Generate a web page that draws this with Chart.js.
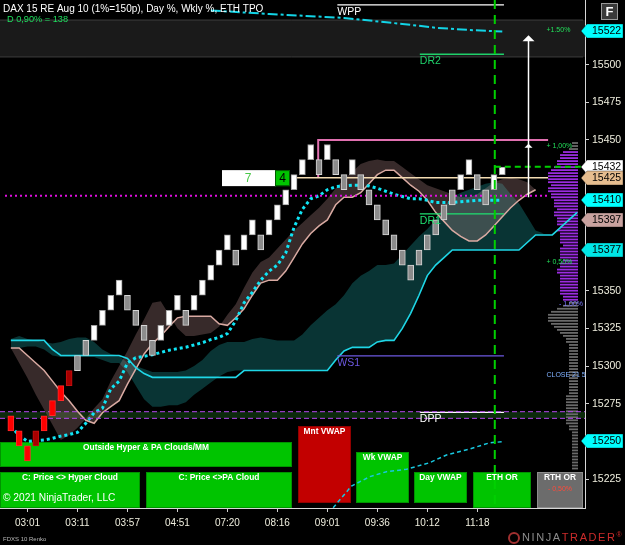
<!DOCTYPE html>
<html>
<head>
<meta charset="utf-8">
<script src="https://cdn.jsdelivr.net/npm/chart.js@4.4.1/dist/chart.umd.min.js"></script>
<style>
  html, body { margin: 0; padding: 0; background: #000; overflow: hidden; }
  canvas { display: block; }
</style>
</head>
<body>
<canvas id="chart" width="625" height="545"></canvas>
<script>
// ---- data ----
const tickIdx = [2, 8, 14, 20, 26, 32, 38, 44, 50, 56];
const tickLabels = ['03:01', '03:11', '03:57', '04:51', '07:20', '08:16', '09:01', '09:36', '10:12', '11:18'];

// renko bricks (10 pt), one per bar
const brickLow = [15257, 15247, 15237, 15247, 15257, 15267, 15277, 15287, 15297, 15307,
  15317, 15327, 15337, 15347, 15337, 15327, 15317, 15307, 15317, 15327,
  15337, 15327, 15337, 15347, 15357, 15367, 15377, 15367, 15377, 15387,
  15377, 15387, 15397, 15407, 15417, 15427, 15437, 15427, 15437, 15427,
  15417, 15427, 15417, 15407, 15397, 15387, 15377, 15367, 15357, 15367,
  15377, 15387, 15397, 15407, 15417, 15427, 15417, 15407, 15417, 15427];
const brickHigh = [15267, 15257, 15247, 15257, 15267, 15277, 15287, 15297, 15307, 15317,
  15327, 15337, 15347, 15357, 15347, 15337, 15327, 15317, 15327, 15337,
  15347, 15337, 15347, 15357, 15367, 15377, 15387, 15377, 15387, 15397,
  15387, 15397, 15407, 15417, 15427, 15437, 15447, 15437, 15447, 15437,
  15427, 15437, 15427, 15417, 15407, 15397, 15387, 15377, 15367, 15377,
  15387, 15397, 15407, 15417, 15427, 15437, 15427, 15417, 15427, 15432];
const brickType = 'RRRDRRRDGGWWWWGGGGWWWGWWWWWGWWGWWWWWWGWGGWGGGGGGGGGGGGWWGGWW'.split('');

// hyper cloud midline (pink) and its other edge
const hyperMid = [15312, 15312, 15307, 15302, 15297, 15290, 15283, 15277, 15270, 15264,
  15262, 15269, 15273, 15277, 15288, 15298, 15308, 15315, 15320, 15326,
  15332, 15333, 15333, 15333, 15333, 15328, 15327, 15332, 15338, 15347,
  15355, 15357, 15357, 15363, 15372, 15381, 15388, 15393, 15397, 15407,
  15412, 15412, 15415, 15421, 15427, 15430, 15430, 15425, 15420, 15416,
  15410, 15402, 15396, 15390, 15386, 15383, 15383, 15387, 15393, 15399,
  15405, 15410, 15414, 15417];
const hyperEdge = [15312, 15302, 15292, 15281, 15271, 15261, 15251, 15254, 15259, 15265,
  15272, 15278, 15290, 15300, 15310, 15321, 15331, 15342, 15343, 15334,
  15325, 15320, 15320, 15321, 15322, 15326, 15334, 15341, 15352, 15362,
  15369, 15372, 15378, 15384, 15390, 15395, 15400, 15405, 15411, 15418,
  15424, 15429, 15434, 15436, 15437, 15436, 15436, 15432, 15428, 15424,
  15420, 15418, 15416, 15414, 15412, 15412, 15414, 15418, 15422, 15424,
  15425, 15424, 15422, 15417];

// PA cloud (teal) edges and its cyan line
const paTop = [15318, 15320, 15318, 15317, 15316, 15315, 15316, 15318, 15319, 15319,
  15316, 15311, 15308, 15307, 15302, 15300, 15298, 15296, 15296, 15296,
  15296, 15297, 15300, 15304, 15310, 15314, 15316, 15316, 15316, 15318,
  15319, 15318, 15317, 15317, 15317, 15321, 15327, 15332, 15337, 15341,
  15347, 15355, 15360, 15363, 15367, 15367, 15368, 15374, 15380, 15386,
  15391, 15397, 15406, 15412, 15415, 15417, 15419, 15421, 15422, 15421,
  15414, 15408, 15399, 15390, 15388];
const paBot = [15312, 15312, 15313, 15313, 15311, 15307, 15306, 15306, 15306, 15306,
  15306, 15304, 15302, 15302, 15296, 15287, 15278, 15273, 15273, 15274,
  15274, 15276, 15281, 15285, 15289, 15293, 15296, 15297, 15297, 15297,
  15297, 15297, 15297, 15297, 15297, 15297, 15297, 15297, 15297, 15304,
  15310, 15312, 15312, 15312, 15316, 15317, 15317, 15325, 15335, 15347,
  15360, 15367, 15372, 15377, 15377, 15377, 15377, 15377, 15377, 15377,
  15377, 15377, 15382, 15387, 15388];
const paLine = [15317, 15317, 15317, 15317, 15317, 15311, 15307, 15307, 15307, 15307,
  15307, 15307, 15307, 15307, 15305, 15299, 15295, 15292.5, 15292.5, 15292.5,
  15292.5, 15292.5, 15292.5, 15292.5, 15292.5, 15292.5, 15292.5, 15292.5, 15297, 15297,
  15297, 15297, 15297, 15297, 15297, 15297, 15297, 15297, 15297, 15304,
  15310, 15312.4, 15312.4, 15312.4, 15316, 15317, 15317, 15325, 15335, 15347,
  15360, 15367, 15372, 15377, 15377, 15377, 15377, 15377, 15377, 15377,
  15377, 15377, 15382, 15387, 15387, 15387, 15392, 15397, 15402];

// dotted moving average
const maDots = [15260, 15254, 15250, 15250.5, 15251, 15252, 15253.5, 15254.5, 15256, 15262,
  15269, 15272, 15285, 15290, 15302, 15305.5, 15306.5, 15307.5, 15309, 15310.5,
  15311.5, 15312.5, 15314, 15315.5, 15317.5, 15319, 15321.5, 15330, 15342, 15349,
  15357, 15363, 15367, 15375, 15392, 15404, 15411, 15413, 15417, 15419,
  15419.5, 15420, 15420, 15419.5, 15418, 15416, 15414, 15412.5, 15411, 15411,
  15410, 15408.5, 15408.5, 15408.5, 15409, 15409.5, 15410, 15410, 15410, 15410];

// vwap lines
const topVwapIdx = [24, 31, 40, 47, 51, 55, 59];
const topVwapVal = [15536, 15533.6, 15531, 15527, 15524.5, 15523, 15522];
const wkVwapIdx = [38.7, 40.9, 43.1, 45.1, 47.5, 50.3, 52.3, 55.1, 57.5, 59.1];
const wkVwapVal = [15206, 15220.4, 15226.6, 15229.9, 15231.5, 15235.9, 15241, 15245, 15249.1, 15249.8];

// pivot levels
const levelNames = ['WPP', 'DR2', 'DR1', 'WS1', 'DPP'];
const levelValues = [15539.6, 15506.9, 15401, 15306.7, 15269.3];
const levelFrom = [39.2, 49.1, 49.1, 39.2, 49.1];
const levelTo = [59.2, 59.2, 59.2, 59.2, 59.2];

const dayHigh = 15450;
const openLine = 15425;
const vwapDay = 15413;
const lastPrice = 15432.3;
const tpoBand = [15265.3, 15269.7];
const pctBand = [15505.1, 15529.6];

// volume profile (2 pt rows, top down)
const profilePrice = [];
for (let p = 15448; p >= 15232; p -= 2) profilePrice.push(p);
const profileVol = [2, 2, 3, 5, 6, 6, 7, 7, 8, 9,
  10, 10, 10, 10, 9, 10, 10, 9, 9, 8,
  8, 8, 7, 8, 8, 7, 7, 7, 6, 7,
  6, 6, 6, 6, 5, 6, 6, 6, 6, 5,
  6, 6, 7, 7, 6, 6, 6, 6, 6, 6,
  6, 5, 5, 3, 5, 7, 9, 10, 10, 10,
  9, 8, 7, 6, 5, 4, 4, 3, 3, 3,
  3, 3, 3, 3, 3, 3, 3, 3, 3, 3,
  3, 3, 3, 3, 4, 4, 4, 4, 4, 4,
  4, 4, 4, 4, 3, 3, 2, 2, 2, 2,
  2, 2, 2, 2, 2, 2, 2, 2, 2];
const valueArea = [15344, 15442];

const axisTags = [15522, 15432, 15425, 15410, 15397, 15377, 15250];
const hiddenTicks = [15525, 15425, 15400, 15375, 15250];
const pctLabels = ['+1.50%', '+ 1,00%', '+ 0,50%', '- 1,00%', 'CLOSE 21 5'];
const pctLevels = [15523, 15446, 15369, 15341, 15294];

// ---- chart ----
const X_MIN = -1.3, X_MAX = 68.93;
const Y_MIN = 15205.8, Y_MAX = 15542.9;
Chart.defaults.font.family = '"Liberation Sans", Arial, sans-serif';

const seq = (arr) => arr.map((v, i) => ({ x: i, y: v }));
const pairs = (xs, ys) => xs.map((x, i) => ({ x: x, y: ys[i] }));
const hline = (v, a, b) => [{ x: a, y: v }, { x: b, y: v }];
const line = (data, color, width, dash, extra) => Object.assign({
  type: 'line', data: data, borderColor: color, borderWidth: width, borderDash: dash || [],
  pointRadius: 0, fill: false, tension: 0
}, extra || {});

const datasets = [];
const add = (d) => { datasets.push(d); return datasets.length - 1; };
const band = (lo, hi, color, order) => {
  const i = add(line(lo, 'transparent', 1, [], { order: order + 1 }));
  add(line(hi, 'transparent', 1, [], { order: order, fill: { target: i }, backgroundColor: color }));
};

band(hline(pctBand[0], X_MIN, X_MAX), hline(pctBand[1], X_MIN, X_MAX), '#1a1a1a', 120);
add(line(hline(pctBand[0], X_MIN, 68.7), '#3c3c3c', 1, [], { order: 110 }));
add(line(hline(pctBand[1], X_MIN, 68.7), '#3c3c3c', 1, [], { order: 110 }));
band(hline(tpoBand[0], X_MIN, X_MAX), hline(tpoBand[1], X_MIN, X_MAX), '#0c2a0c', 116);
add(line(hline(tpoBand[0], X_MIN, X_MAX), '#b548f0', 1, [5, 3], { order: 70 }));
add(line(hline(tpoBand[1], X_MIN, X_MAX), '#b548f0', 1, [5, 3], { order: 70 }));

band(seq(paBot), seq(paTop), '#093434', 100);
const iMid = add(line(seq(hyperMid), '#d9aaa2', 1.5, [], { order: 80 }));
add(line(seq(hyperEdge), 'transparent', 1, [], { order: 90, fill: { target: iMid }, backgroundColor: 'rgba(205,155,155,0.27)' }));

add({
  type: 'bar', indexAxis: 'y', xAxisID: 'xp', yAxisID: 'yp', order: 88,
  data: profilePrice.map((p, i) => ({ y: p, x: [0, profileVol[i]] })),
  backgroundColor: profilePrice.map(p => (p >= valueArea[0] && p <= valueArea[1]) ? '#9b2ce0' : '#6a6a6a'),
  barThickness: 1.8, borderWidth: 0, grouped: false, inflateAmount: 0
});

add(line(seq(paLine), '#1fd6e6', 1.6, [], { order: 78 }));
add(line(seq(maDots), '#10e4f4', 3, [3, 3], { order: 76 }));
add(line(pairs(topVwapIdx, topVwapVal), '#12d4e6', 2, [10, 3, 3, 3], { order: 75 }));
add(line(pairs(wkVwapIdx, wkVwapVal), '#18c8e0', 1.5, [4, 3], { order: 75 }));

const levelColor = { WPP: '#ffffff', DR2: '#1fd06a', DR1: '#1fe070', WS1: '#6c58e0', DPP: '#ffffff' };
levelNames.forEach((n, i) => add(line(hline(levelValues[i], levelFrom[i], levelTo[i]), levelColor[n], 1.3, [], { order: 72 })));
add(line(hline(vwapDay, -0.7, 64.5), '#e010e0', 2, [2, 3], { order: 71 }));
add(line(hline(openLine, 33.8, 64.5), '#f3dcb2', 1.5, [], { order: 71 }));
add(line([{ x: 36.9, y: openLine }, { x: 36.9, y: dayHigh }, { x: 64.5, y: dayHigh }], '#e070b0', 2, [], { order: 71 }));

const brickFill = { R: '#ff0000', D: '#a80000', W: '#ffffff', G: '#8c8c8c' };
const brickEdge = { R: '#ff2a2a', D: '#c41010', W: '#a0a0a0', G: '#d6d6d6' };
add({
  type: 'bar', order: 10, grouped: false,
  data: brickLow.map((lo, i) => ({ x: i, y: [lo, brickHigh[i]] })),
  backgroundColor: brickType.map(t => brickFill[t]),
  borderColor: brickType.map(t => brickEdge[t]),
  borderWidth: 1, borderSkipped: false, barThickness: 6
});

add(line([{ x: 58.1, y: Y_MAX }, { x: 58.1, y: Y_MIN }], '#00d000', 2, [9, 6], { order: 5 }));
add(line(hline(lastPrice, 58.1, X_MAX), '#00d000', 2, [6, 4], { order: 5 }));

const panels = [
  { t: 'Outside Hyper & PA Clouds/MM', x: 0, y: 442, w: 292, h: 25, c: '#00c400' },
  { t: 'C: Price <> Hyper Cloud', x: 0, y: 472, w: 140, h: 36, c: '#00c400' },
  { t: 'C: Price <>PA Cloud', x: 146, y: 472, w: 146, h: 36, c: '#00c400' },
  { t: 'Mnt VWAP', x: 298, y: 426, w: 53, h: 77, c: '#c20000' },
  { t: 'Wk VWAP', x: 356, y: 452, w: 53, h: 51, c: '#00c400' },
  { t: 'Day VWAP', x: 414, y: 472, w: 53, h: 31, c: '#00c400' },
  { t: 'ETH OR', x: 473, y: 472, w: 58, h: 36, c: '#00c400' },
  { t: 'RTH OR', x: 537, y: 472, w: 46, h: 36, c: '#6c6c6c' }
];
const tagColor = { 15522: '#00ffff', 15432: '#ffffff', 15425: '#e6bd8f', 15410: '#00ffff', 15397: '#c9a29f', 15377: '#00e6e6', 15250: '#00ffff' };

const overlay = {
  id: 'overlay',
  beforeDatasetsDraw(chart) {
    const ctx = chart.ctx;
    ctx.save();
    panels.forEach(p => {
      ctx.fillStyle = p.c;
      ctx.fillRect(p.x, p.y, p.w, p.h);
      ctx.strokeStyle = p.c === '#6c6c6c' ? '#8c8c8c' : 'rgba(0,0,0,0.25)';
      ctx.lineWidth = 1;
      ctx.strokeRect(p.x + 0.5, p.y + 0.5, p.w - 1, p.h - 1);
      ctx.fillStyle = '#ffffff';
      ctx.font = 'bold 8.4px "Liberation Sans"';
      ctx.textAlign = 'center';
      ctx.textBaseline = 'middle';
      ctx.fillText(p.t, p.x + p.w / 2, p.y + 5.5);
    });
    ctx.font = '10.2px "Liberation Sans"';
    ctx.textAlign = 'left';
    ctx.fillText('\u00a9 2021 NinjaTrader, LLC', 3, 498);
    ctx.fillStyle = '#ff4a3a';
    ctx.font = '7px "Liberation Sans"';
    ctx.textAlign = 'center';
    ctx.fillText('- 0,50%', 560, 489);
    ctx.restore();
  },
  afterDatasetsDraw(chart) {
    const ctx = chart.ctx, xs = chart.scales.x, ys = chart.scales.y;
    ctx.save();
    // pivot labels
    ctx.font = '10.5px "Liberation Sans"';
    ctx.textAlign = 'left';
    ctx.textBaseline = 'top';
    levelNames.forEach((n, i) => {
      ctx.fillStyle = levelColor[n];
      ctx.fillText(n, xs.getPixelForValue(levelFrom[i]), ys.getPixelForValue(levelValues[i]) + 2);
    });
    // percent labels by the profile
    ctx.font = '7px "Liberation Sans"';
    ctx.textBaseline = 'middle';
    pctLabels.forEach((t, i) => {
      ctx.fillStyle = t.startsWith('-') ? '#7a78ff' : (t.startsWith('C') ? '#7fb0ff' : '#22e05a');
      ctx.fillText(t, xs.getPixelForValue(i === 3 ? 65.8 : 64.3), ys.getPixelForValue(pctLevels[i]));
    });
    // arrow
    const ax = Math.round(xs.getPixelForValue(62.05)) + 0.5;
    const y1 = ys.getPixelForValue(15412), y2 = ys.getPixelForValue(15519.5);
    ctx.strokeStyle = '#ffffff';
    ctx.lineWidth = 1.5;
    ctx.beginPath(); ctx.moveTo(ax, y1); ctx.lineTo(ax, y2 + 5); ctx.stroke();
    ctx.fillStyle = '#ffffff';
    ctx.beginPath(); ctx.moveTo(ax, y2); ctx.lineTo(ax - 6, y2 + 6); ctx.lineTo(ax + 6, y2 + 6); ctx.closePath(); ctx.fill();
    const ym = ys.getPixelForValue(15447.5);
    ctx.beginPath(); ctx.moveTo(ax, ym); ctx.lineTo(ax - 4, ym + 4); ctx.lineTo(ax + 4, ym + 4); ctx.closePath(); ctx.fill();
    // counter box "7 | 4"
    const by = ys.getPixelForValue(15432) + 3;
    ctx.fillStyle = '#ffffff';
    ctx.fillRect(222, by, 54, 16);
    ctx.fillStyle = '#00c400';
    ctx.fillRect(275, by, 15, 16);
    ctx.strokeStyle = '#005a00';
    ctx.lineWidth = 1;
    ctx.strokeRect(275.5, by + 0.5, 14, 15);
    ctx.font = '12px "Liberation Sans"';
    ctx.textAlign = 'center';
    ctx.textBaseline = 'middle';
    ctx.fillStyle = '#48c848';
    ctx.fillText('7', 248, by + 8.5);
    ctx.fillStyle = '#000000';
    ctx.fillText('4', 282.5, by + 8.5);
    ctx.restore();
  },
  afterDraw(chart) {
    const ctx = chart.ctx, ys = chart.scales.y, a = chart.chartArea;
    ctx.save();
    // price tags on the axis
    ctx.font = '10.5px "Liberation Sans"';
    ctx.textBaseline = 'middle';
    ctx.textAlign = 'left';
    axisTags.forEach(v => {
      const y = Math.round(ys.getPixelForValue(v));
      const x0 = a.right - 4;
      ctx.fillStyle = tagColor[v];
      ctx.beginPath();
      ctx.moveTo(x0, y);
      ctx.lineTo(x0 + 6, y - 7);
      ctx.lineTo(623, y - 7);
      ctx.lineTo(623, y + 7);
      ctx.lineTo(x0 + 6, y + 7);
      ctx.closePath();
      ctx.fill();
      ctx.strokeStyle = 'rgba(0,0,0,0.35)';
      ctx.lineWidth = 1;
      ctx.stroke();
      ctx.fillStyle = '#000000';
      ctx.fillText(String(v), a.right + 7, y + 0.5);
    });
    // title
    ctx.font = '10px "Liberation Sans"';
    ctx.fillStyle = '#ffffff';
    ctx.fillText('DAX 15 RE Aug 10 (1%=150p), Day %, Wkly %, ETH TPO', 3, 9);
    ctx.font = '9.2px "Liberation Sans"';
    ctx.fillStyle = '#1ee05e';
    ctx.fillText('D 0,90% = 138', 7, 19.5);
    // F button
    ctx.fillStyle = '#3a3a3a';
    ctx.fillRect(601, 3, 17, 17);
    ctx.strokeStyle = '#9a9a9a';
    ctx.strokeRect(601.5, 3.5, 16, 16);
    ctx.fillStyle = '#ffffff';
    ctx.font = 'bold 13px "Liberation Sans"';
    ctx.textAlign = 'center';
    ctx.fillText('F', 609.5, 12);
    // footer
    ctx.textAlign = 'left';
    ctx.font = '6px "Liberation Sans"';
    ctx.fillStyle = '#b8b8b8';
    ctx.fillText('FDXS 10 Renko', 3, 539);
    ctx.beginPath();
    ctx.arc(514, 538, 5, 0, Math.PI * 2);
    ctx.strokeStyle = '#a03030';
    ctx.lineWidth = 2;
    ctx.stroke();
    ctx.font = '11px "Liberation Sans"';
    ctx.letterSpacing = '1.6px';
    ctx.fillStyle = '#8c8c8c';
    ctx.fillText('NINJA', 522, 538);
    const w = ctx.measureText('NINJA').width;
    ctx.fillStyle = '#cc2b2b';
    ctx.fillText('TRADER', 522 + w, 538);
    const w2 = ctx.measureText('TRADER').width;
    ctx.font = '7px "Liberation Sans"';
    ctx.fillText('\u00ae', 522 + w + w2, 535);
    ctx.restore();
  }
};

new Chart(document.getElementById('chart'), {
  type: 'bar',
  data: { datasets: datasets },
  options: {
    responsive: false,
    animation: false,
    events: [],
    layout: { padding: 0 },
    plugins: { legend: { display: false }, tooltip: { enabled: false }, title: { display: false } },
    scales: {
      x: {
        type: 'linear', min: X_MIN, max: X_MAX, offset: false,
        grid: { display: true, drawOnChartArea: false, drawTicks: true, tickLength: 4, color: '#d0d0d0', offset: false },
        border: { display: true, color: '#d6d6d6' },
        afterBuildTicks: (s) => { s.ticks = tickIdx.map(v => ({ value: v })); },
        afterFit: (s) => { s.height = 37; s.paddingLeft = 0; s.paddingRight = 0; },
        ticks: {
          color: '#efeede', font: { size: 10 }, padding: 5, maxRotation: 0, autoSkip: false,
          callback: (v) => { const k = tickIdx.indexOf(v); return k >= 0 ? tickLabels[k] : ''; }
        }
      },
      y: {
        type: 'linear', position: 'right', min: Y_MIN, max: Y_MAX, offset: false,
        grid: { display: true, drawOnChartArea: false, drawTicks: true, tickLength: 4, color: '#d0d0d0' },
        border: { display: true, color: '#d6d6d6' },
        afterBuildTicks: (s) => { s.ticks = s.ticks.filter(t => Math.abs(t.value % 25) < 0.001); },
        afterFit: (s) => { s.width = 40; s.paddingTop = 0; s.paddingBottom = 0; },
        ticks: {
          color: '#efeede', font: { size: 10.5 }, padding: 3, stepSize: 25,
          callback: (v) => hiddenTicks.includes(v) ? '' : String(v)
        }
      },
      xp: { type: 'linear', axis: 'x', display: false, reverse: true, min: -2.33, max: 192.67, offset: false },
      yp: { type: 'linear', axis: 'y', display: false, min: Y_MIN, max: Y_MAX, offset: false }
    }
  },
  plugins: [overlay]
});
</script>
</body>
</html>
